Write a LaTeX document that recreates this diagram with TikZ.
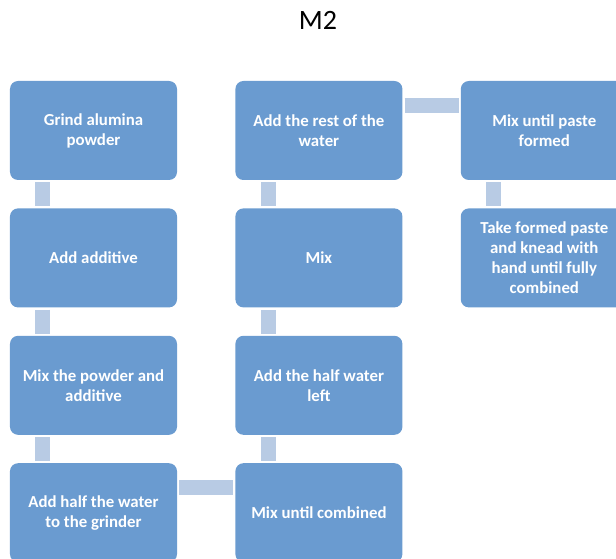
\documentclass[tikz,border=0pt]{standalone}
\usepackage{fontspec}
\setmainfont{Carlito}
\usetikzlibrary{positioning}

\definecolor{stepblue}{HTML}{6A9BD0}
\definecolor{linkblue}{HTML}{B8CBE4}

\begin{document}
\begin{tikzpicture}[
		x=1bp, y=-1bp,
		stepbox/.style={rectangle, rounded corners=8bp, fill=stepblue, text=white,
			minimum width=167bp, minimum height=99bp, align=center,
			inner sep=0pt, font=\fontsize{16.8bp}{20bp}\selectfont\bfseries},
		link/.style={draw=linkblue, line width=15bp, shorten <=2bp, shorten >=2bp},
	]
	\useasboundingbox (0,0) rectangle (616,559);
	\node[font=\fontsize{28bp}{32bp}\selectfont] (title) at (318,20) {M2};

	% first column
	\node[stepbox] (grind) at (93.5,130.5) {Grind alumina\\powder};
	\node[stepbox, below=28bp of grind] (additive) {Add additive};
	\node[stepbox, below=28bp of additive] (mixpowder) {Mix the powder and\\additive};
	\node[stepbox, below=28bp of mixpowder] (halfwater) {Add half the water\\to the grinder};

	% second column
	\node[stepbox, right=58bp of halfwater] (mixcomb) {Mix until combined};
	\node[stepbox, above=28bp of mixcomb] (halfleft) {Add the half water\\left};
	\node[stepbox, above=28bp of halfleft] (mix) {Mix};
	\node[stepbox, above=28bp of mix] (rest) {Add the rest of the\\water};

	% third column
	\node[stepbox, right=58bp of rest] (paste) {Mix until paste\\formed};
	\node[stepbox, below=28bp of paste] (knead) {Take formed paste\\and knead with\\hand until fully\\combined};

	\draw[link] ([xshift=33bp]grind.south west) -- ([xshift=33bp]additive.north west);
	\draw[link] ([xshift=33bp]additive.south west) -- ([xshift=33bp]mixpowder.north west);
	\draw[link] ([xshift=33bp]mixpowder.south west) -- ([xshift=33bp]halfwater.north west);
	\draw[link] ([yshift=-24.5bp]halfwater.north east) -- ([yshift=-24.5bp]mixcomb.north west);
	\draw[link] ([xshift=33bp]mixcomb.north west) -- ([xshift=33bp]halfleft.south west);
	\draw[link] ([xshift=33bp]halfleft.north west) -- ([xshift=33bp]mix.south west);
	\draw[link] ([xshift=33bp]mix.north west) -- ([xshift=33bp]rest.south west);
	\draw[link] ([yshift=-24.5bp]rest.north east) -- ([yshift=-24.5bp]paste.north west);
	\draw[link] ([xshift=33bp]paste.south west) -- ([xshift=33bp]knead.north west);
\end{tikzpicture}
\end{document}
